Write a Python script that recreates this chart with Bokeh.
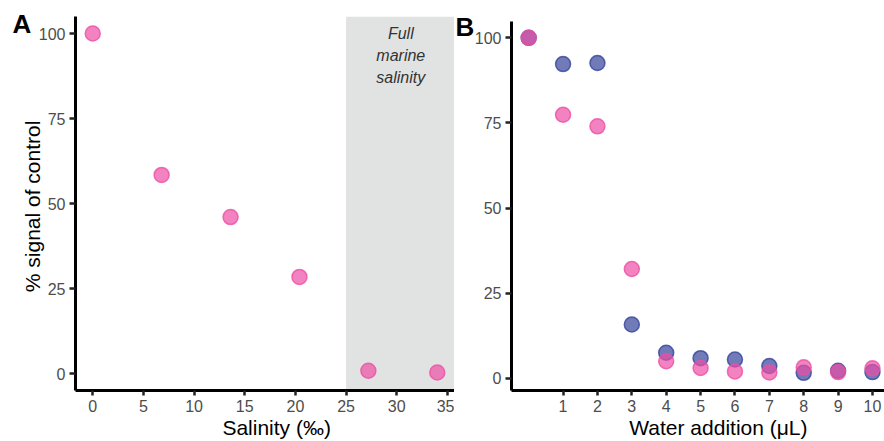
from bokeh.plotting import figure
from bokeh.layouts import row, column
from bokeh.models import BoxAnnotation, Range1d, FixedTicker
from bokeh.core.properties import value
from bokeh.embed import file_html
from bokeh.resources import INLINE

# ---- data ----
salinity = [0, 6.8, 13.6, 20.4, 27.2, 34]
signal_salinity = [100, 58.4, 46.0, 28.4, 0.8, 0.3]

water = [0, 1, 2, 3, 4, 5, 6, 7, 8, 9, 10]
signal_blue = [100, 92.3, 92.6, 15.8, 7.5, 5.9, 5.5, 3.6, 1.6, 2.2, 1.8]
signal_pink = [100, 77.4, 74.0, 32.1, 5.0, 3.0, 2.0, 1.7, 3.2, 1.8, 2.9]

sal_ticks = [0, 5, 10, 15, 20, 25, 30, 35]
water_ticks = [1, 2, 3, 4, 5, 6, 7, 8, 9, 10]
y_ticks = [0, 25, 50, 75, 100]
marine_lines = ["Full", "marine", "salinity"]
marine_y = [100, 93.5, 87]

PINK = "#EC4FA5"
BLUE = "#33439A"
FONT = "Liberation Sans"
NB = "\u00a0"


def style(p, panel_label, offset, standoff):
    t = p.title
    t.text = panel_label
    t.align = "left"
    t.vertical_align = "bottom"
    t.offset = offset
    t.standoff = standoff
    t.text_font = FONT
    t.text_font_size = "26px"
    t.text_font_style = "bold"
    t.text_color = "black"
    p.xgrid.visible = False
    p.ygrid.visible = False
    p.outline_line_color = None
    p.background_fill_color = "white"
    p.border_fill_color = "white"
    for ax in (p.xaxis[0], p.yaxis[0]):
        ax.axis_line_width = 3
        ax.axis_line_color = "black"
        ax.major_tick_line_width = 2.5
        ax.major_tick_line_color = "#222222"
        ax.major_tick_in = 0
        ax.minor_tick_line_color = None
        ax.major_label_text_font = FONT
        ax.major_label_text_font_size = "16px"
        ax.major_label_text_color = "#4D4D4D"
        ax.axis_label_text_font = FONT
        ax.axis_label_text_font_size = "21px"
        ax.axis_label_text_font_style = "normal"
        ax.axis_label_text_color = "black"
    p.xaxis.major_tick_out = 5
    p.xaxis.major_label_standoff = 4
    p.xaxis.axis_label_standoff = 1
    p.yaxis.major_tick_out = 6
    p.yaxis.major_label_standoff = 4
    p.yaxis.axis_label_standoff = -8


# ---- panel A ----
pa = figure(width=454, height=441, output_backend="svg", toolbar_location=None,
            x_range=Range1d(-1.7, 35.7), y_range=Range1d(-5, 105),
            min_border_left=75, min_border_right=0, min_border_top=16,
            min_border_bottom=51)
style(pa, "A", -63, -45)
pa.xaxis.ticker = FixedTicker(ticks=sal_ticks)
pa.yaxis.ticker = FixedTicker(ticks=y_ticks)
pa.xaxis.axis_label = NB * 4 + "Salinity (‰)"
pa.yaxis.axis_label = "%  signal of control"

pa.add_layout(BoxAnnotation(left=25, fill_color="#E1E3E2", fill_alpha=1,
                            line_color=None, level="underlay"))
pa.text(x=[30.4] * len(marine_lines), y=marine_y, text=marine_lines,
        text_align="center", text_baseline="middle",
        text_font=value(FONT), text_font_size="16px",
        text_font_style="italic", text_color="#333333")
pa.scatter(salinity, signal_salinity, size=15, fill_color=PINK, fill_alpha=0.7,
           line_color=PINK, line_alpha=0.8, line_width=1.5)

# ---- panel B ----
pb = figure(width=430, height=441, output_backend="svg", toolbar_location=None,
            x_range=Range1d(-0.5, 10.35), y_range=Range1d(-3.6, 104.8),
            min_border_left=57, min_border_right=0, min_border_top=21,
            min_border_bottom=51)
style(pb, "B", -56, -41)
pb.xaxis.ticker = FixedTicker(ticks=water_ticks)
pb.yaxis.ticker = FixedTicker(ticks=y_ticks)
pb.xaxis.axis_label = NB * 7 + "Water addition (μL)"

pb.scatter(water, signal_blue, size=15, fill_color=BLUE, fill_alpha=0.7,
           line_color=BLUE, line_alpha=0.8, line_width=1.5)
pb.scatter(water, signal_pink, size=15, fill_color=PINK, fill_alpha=0.7,
           line_color=PINK, line_alpha=0.8, line_width=1.5)

layout = row(column(pa), column(pb), spacing=0)
open("out.html", "w").write(file_html(layout, INLINE))
